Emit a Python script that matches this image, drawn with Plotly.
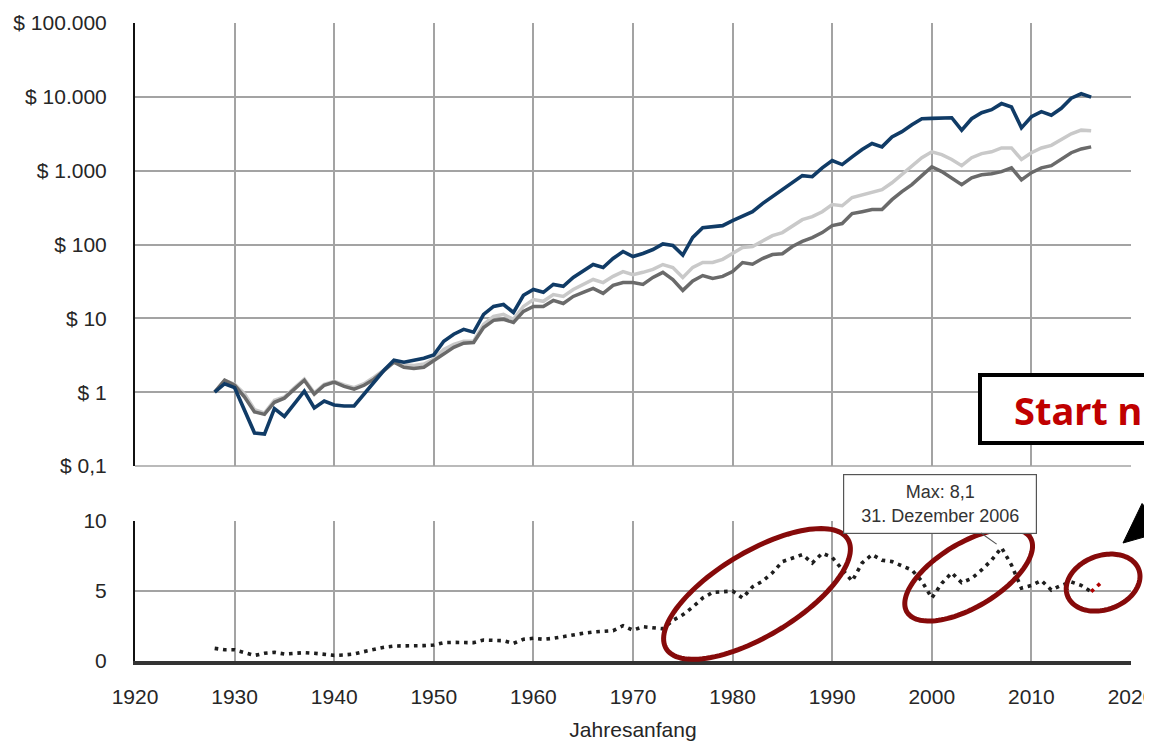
import numpy as np
import plotly.graph_objects as go

# ---------------- data ----------------
years_top = list(range(1928, 2017))

navy = [1.0, 1.3, 1.15, 0.55, 0.28, 0.27, 0.6, 0.47, 0.71, 1.03,
        0.61, 0.76, 0.67, 0.65, 0.65, 0.94, 1.37, 1.98, 2.7, 2.54,
        2.7, 2.88, 3.2, 4.9, 6.1, 7.1, 6.5, 11.3, 14.5, 15.4,
        12.0, 20.5, 24.6, 22.5, 28.8, 27.1, 35.8, 43.1, 53.6, 48.8,
        64.6, 80.4, 68.7, 75.5, 85.5, 102, 97, 72, 125, 169,
        175, 180, 211, 246, 278, 358, 445, 552, 708, 856,
        828, 1090, 1370, 1210, 1540, 1930, 2330, 2100, 2870, 3370,
        4190, 5050, 5100, 5210, 5210, 3540, 5050, 6100, 6700, 8100,
        7300, 3800, 5370, 6300, 5650, 7000, 9600, 11000, 9900]

light = [1.0, 1.45, 1.28, 0.95, 0.58, 0.52, 0.78, 0.86, 1.15, 1.5,
         0.98, 1.28, 1.4, 1.25, 1.15, 1.3, 1.6, 2.0, 2.6, 2.35,
         2.3, 2.4, 2.8, 3.8, 4.45, 4.9, 4.9, 8.3, 10.6, 11.3,
         9.7, 14.5, 18.0, 17.0, 21.0, 19.8, 24.6, 28.8, 33.6, 30.5,
         37, 43, 39, 42, 46, 53.6, 48.8, 35.8, 49, 57,
         57, 63, 75, 91, 94, 110, 132, 145, 175, 217,
         239, 278, 347, 335, 433, 470, 520, 552, 685, 880,
         1130, 1500, 1800, 1650, 1420, 1170, 1500, 1700, 1800, 2030,
         2030, 1420, 1750, 2030, 2200, 2650, 3160, 3540, 3470]

dark = [1.0, 1.45, 1.24, 0.86, 0.54, 0.50, 0.73, 0.83, 1.1, 1.45,
        0.94, 1.24, 1.37, 1.2, 1.1, 1.24, 1.5, 1.92, 2.54, 2.17,
        2.1, 2.17, 2.65, 3.26, 4.05, 4.6, 4.7, 7.5, 9.4, 9.7,
        8.8, 12.4, 14.5, 14.5, 17.5, 15.9, 19.8, 22.5, 25.5, 21.8,
        28, 30.5, 30.5, 28.8, 35.8, 42, 33.6, 23.9, 32, 38,
        34.6, 37, 43, 57, 54, 64.6, 73, 75, 94, 110,
        124, 145, 180, 192, 262, 278, 297, 297, 405, 520,
        647, 856, 1130, 970, 800, 647, 800, 880, 910, 970,
        1090, 750, 940, 1090, 1170, 1420, 1750, 1970, 2100]

years_ratio = list(range(1928, 2017))
ratio = [0.9, 0.8, 0.8, 0.6, 0.4, 0.55, 0.62, 0.5, 0.55, 0.6,
         0.55, 0.5, 0.4, 0.43, 0.5, 0.67, 0.83, 0.98, 1.07, 1.07,
         1.1, 1.1, 1.14, 1.31, 1.33, 1.31, 1.31, 1.5, 1.5, 1.45,
         1.26, 1.55, 1.62, 1.55, 1.62, 1.74, 1.9, 1.98, 2.07, 2.12,
         2.17, 2.52, 2.2, 2.45, 2.4, 2.3, 2.9, 3.3, 3.85, 4.5,
         4.9, 4.95, 5.0, 4.5, 5.3, 5.7, 6.3, 7.1, 7.35, 7.6,
         7.0, 7.7, 7.4, 6.5, 5.7, 7.0, 7.6, 7.2, 7.1, 6.8,
         6.5, 5.7, 4.5, 5.55, 6.3, 5.6, 5.9, 6.5, 7.2, 8.1,
         6.85, 5.2, 5.4, 5.75, 5.07, 5.4, 5.65, 5.4, 4.95]
years_recent = [2016, 2017]
ratio_recent = [4.95, 5.6]

max_year = 2007
max_value = 8.1
max_text = "Max: 8,1<br>31. Dezember 2006"

top_tickvals = [0.1, 1, 10, 100, 1000, 10000, 100000]
top_ticktext = ["$ 0,1", "$ 1", "$ 10", "$ 100", "$ 1.000", "$ 10.000", "$ 100.000"]
bot_tickvals = [0, 5, 10]
x_tickvals = list(range(1920, 2021, 10))
x_title = "Jahresanfang"
box_text = "Start n"

# highlight ellipses: centre (year, ratio value), semi-axes (px), tilt (deg)
ellipses = [
    dict(cx=1982.45, cy=4.79, a=106, b=42, ang=31),
    dict(cx=2003.7, cy=6.15, a=72, b=32, ang=31),
    dict(cx=2017.2, cy=5.6, a=38, b=27, ang=20),
]

# ---------------- layout geometry ----------------
OFF = 8                      # default page margin around the figure
W, H = 1152 - OFF, 745 - OFF
ML, MR, MT, MB = 135 - OFF, 21, 23 - OFF, 84
PW, PH = W - ML - MR, H - MT - MB
bot_px = 140
top_px = 443
bot_dom = [0, bot_px / PH]
top_dom = [1 - top_px / PH, 1]

FONT = "Liberation Sans, Arial, sans-serif"
GRID = "#a3a3a3"
TXT = "#262626"


def px2paper(px, py):
    """page pixel -> paper coordinate"""
    return (px - OFF - ML) / PW, (H - MB - (py - OFF)) / PH


fig = go.Figure()

fig.add_trace(go.Scatter(x=years_top, y=light, mode="lines", xaxis="x", yaxis="y",
                         line=dict(color="#c9c9c9", width=3.5), showlegend=False))
fig.add_trace(go.Scatter(x=years_top, y=dark, mode="lines", xaxis="x", yaxis="y",
                         line=dict(color="#6a6a6a", width=3.5), showlegend=False))
fig.add_trace(go.Scatter(x=years_top, y=navy, mode="lines", xaxis="x", yaxis="y",
                         line=dict(color="#103b66", width=3.6), showlegend=False))

fig.add_trace(go.Scatter(x=years_ratio, y=ratio, mode="lines", xaxis="x2", yaxis="y2",
                         line=dict(color="#1e1e1e", width=3.6, dash="3.6px,4.8px"),
                         showlegend=False))
fig.add_trace(go.Scatter(x=years_recent, y=ratio_recent, mode="lines", xaxis="x2", yaxis="y2",
                         line=dict(color="#b00000", width=3.6, dash="3.6px,4.8px"),
                         showlegend=False))

axis_font = dict(family=FONT, size=21, color=TXT)

fig.update_layout(
    width=W, height=H,
    margin=dict(l=ML, r=MR, t=MT, b=MB, autoexpand=False),
    paper_bgcolor="white", plot_bgcolor="white",
    showlegend=False,
    xaxis=dict(domain=[0, 1], range=[1920, 2020], tickvals=x_tickvals, showticklabels=False,
               showgrid=True, gridcolor=GRID, gridwidth=1.5, zeroline=False,
               showline=False, anchor="y", automargin=False),
    yaxis=dict(domain=top_dom, type="log", range=[-1, 5], tickvals=top_tickvals,
               ticktext=top_ticktext, showgrid=True, gridcolor=GRID, gridwidth=1.5,
               zeroline=False, showline=True, linecolor="#111111", linewidth=2,
               tickfont=axis_font, ticks="", ticklabelstandoff=22, anchor="x",
               automargin=False, ticklabeloverflow="allow"),
    xaxis2=dict(domain=[0, 1], range=[1920, 2020], tickvals=x_tickvals,
                showgrid=True, gridcolor=GRID, gridwidth=1.5, zeroline=False,
                showline=True, linecolor="#333333", linewidth=3.5,
                tickfont=axis_font, ticks="", ticklabelstandoff=14, anchor="y2",
                automargin=False, ticklabeloverflow="allow",
                title=dict(text=x_title, font=dict(family=FONT, size=21, color=TXT), standoff=16)),
    yaxis2=dict(domain=bot_dom, range=[0, 10], tickvals=bot_tickvals,
                showgrid=True, gridcolor=GRID, gridwidth=1.5, zeroline=False,
                showline=True, linecolor="#111111", linewidth=2,
                tickfont=axis_font, ticks="", ticklabelstandoff=22, anchor="x2",
                automargin=False, ticklabeloverflow="allow"),
)

shapes = []
# bottom edge of top panel
shapes.append(dict(type="line", xref="paper", yref="paper", x0=0, x1=1,
                   y0=top_dom[0], y1=top_dom[0], line=dict(color=GRID, width=1.5), layer="below"))

# ellipses
for e in ellipses:
    cxp = (e["cx"] - 1920) / 100 * PW
    cyp = e["cy"] / 10 * bot_px
    th = np.deg2rad(e["ang"])
    t = np.linspace(0, 2 * np.pi, 120)
    dx = e["a"] * np.cos(t) * np.cos(th) - e["b"] * np.sin(t) * np.sin(th)
    dy = e["a"] * np.cos(t) * np.sin(th) + e["b"] * np.sin(t) * np.cos(th)
    xs = (cxp + dx) / PW
    ys = (cyp + dy) / PH
    path = "M " + " L ".join(f"{x:.5f},{y:.5f}" for x, y in zip(xs, ys)) + " Z"
    shapes.append(dict(type="path", xref="paper", yref="paper", path=path,
                       line=dict(color="#860a0a", width=5), layer="above"))

# "Start n" box (extends past right edge)
bx0, by0 = px2paper(980, 443)
_, by1 = px2paper(980, 375)
shapes.append(dict(type="rect", xref="paper", yref="paper", x0=bx0, x1=1.1, y0=by0, y1=by1,
                   fillcolor="white", line=dict(color="black", width=4), layer="above"))

# black arrow pointing down-left at the latest ratio values (mostly off-page)
tip = np.array([1123.0, 543.0])
ang = np.deg2rad(40)
d = np.array([-np.cos(ang), np.sin(ang)])      # tail -> tip direction (screen coords)
perp = np.array([d[1], -d[0]])
base = tip - 40 * d
c1 = base + 18 * perp
c2 = base - 18 * perp
tail = base - 70 * d
tri = "M " + " L ".join("{:.5f},{:.5f}".format(*px2paper(*p)) for p in [tip, c1, c2]) + " Z"
shapes.append(dict(type="path", xref="paper", yref="paper", path=tri,
                   fillcolor="black", line=dict(color="black", width=1), layer="above"))
bxp, byp = px2paper(*(base + 2 * d))
txp, typ = px2paper(*tail)
shapes.append(dict(type="line", xref="paper", yref="paper", x0=bxp, y0=byp, x1=txp, y1=typ,
                   line=dict(color="black", width=6), layer="above"))
fig.update_layout(shapes=shapes)

sx, sy = px2paper(1012, 410)
annotations = [
    dict(x=max_year, y=max_value, xref="x2", yref="y2", text=max_text, showarrow=True,
         arrowhead=0, arrowwidth=1.2, arrowcolor="#555555", ax=-62, ay=-44, standoff=6,
         font=dict(family=FONT, size=18, color="#333333"), bgcolor="white",
         bordercolor="#555555", borderwidth=1.2, borderpad=3, width=186, height=52),
    dict(x=sx, y=sy, xref="paper", yref="paper",
         text="<b>" + box_text + "</b>", showarrow=False, xanchor="left", yanchor="middle",
         font=dict(family="Noto Sans, Open Sans, sans-serif", size=38, color="#c00000")),
]
fig.update_layout(annotations=annotations)

fig.write_html("out.html")
